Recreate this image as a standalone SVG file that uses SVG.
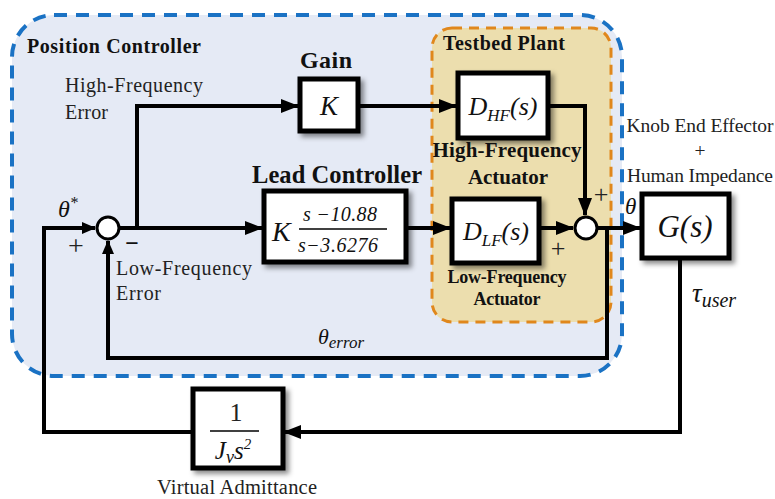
<svg xmlns="http://www.w3.org/2000/svg" width="775" height="499" viewBox="0 0 775 499" font-family="Liberation Serif, Times New Roman, DejaVu Serif, serif">
<style>
text{font-family:"Liberation Serif","Times New Roman","DejaVu Serif",serif;fill:#222}
.b{font-weight:bold;fill:#111}
.it{font-style:italic;fill:#111}
.box{fill:#fff;stroke:#000;stroke-width:5}
.w{fill:none;stroke:#000;stroke-width:4}
.sum{fill:#fff;stroke:#000;stroke-width:3}
</style>
<defs>
<marker id="ah" viewBox="0 0 14 12" refX="13" refY="6" markerWidth="14" markerHeight="12" markerUnits="userSpaceOnUse" orient="auto">
<path d="M0,0 L14,6 L0,12 Z" fill="#000"/>
</marker>
<marker id="ahl" viewBox="0 0 18 14" refX="17" refY="7" markerWidth="18" markerHeight="14" markerUnits="userSpaceOnUse" orient="auto">
<path d="M0,0 L18,7 L0,14 Z" fill="#000"/>
</marker>
<filter id="sh" x="-20%" y="-20%" width="150%" height="150%">
<feDropShadow dx="3.5" dy="3.5" stdDeviation="2.5" flood-color="#000" flood-opacity="0.45"/>
</filter>
</defs>

<g id="position-controller">
<rect x="12" y="15" width="610" height="361" rx="42" ry="42" fill="#e5eaf5" stroke="#1a72c4" stroke-width="4" stroke-dasharray="13,9"/>
<text class="b" x="27" y="53" font-size="20" textLength="174">Position Controller</text>
</g>

<g id="testbed-plant">
<rect x="432" y="28" width="179" height="294" rx="20" ry="20" fill="#ecdeae" stroke="#e0871c" stroke-width="3" stroke-dasharray="10,7"/>
<text class="b" x="443" y="50" font-size="20" textLength="122">Testbed Plant</text>
</g>

<g id="connectors">
<polyline class="w" points="192,432 44,432 44,228 95,228" marker-end="url(#ah)"/>
<line class="w" x1="119" y1="228" x2="262" y2="228" marker-end="url(#ahl)"/>
<polyline class="w" points="137,228 137,106 298,106" marker-end="url(#ahl)"/>
<line class="w" x1="358" y1="106" x2="456" y2="106" marker-end="url(#ahl)"/>
<line class="w" x1="406" y1="228" x2="450" y2="228" marker-end="url(#ahl)"/>
<polyline class="w" points="548,106 585,106 585,215" marker-end="url(#ahl)"/>
<line class="w" x1="539" y1="228" x2="573" y2="228" marker-end="url(#ahl)"/>
<line class="w" x1="597" y1="228" x2="640" y2="228" marker-end="url(#ahl)"/>
<polyline class="w" points="607,228 607,358 108,358 108,241" marker-end="url(#ah)"/>
<polyline class="w" points="680,258 680,432 284,432" marker-end="url(#ahl)"/>
</g>

<g id="sum1">
<circle class="sum" cx="108" cy="228" r="11"/>
<text x="76" y="255" font-size="28" text-anchor="middle" fill="#111">+</text>
<text class="b" x="132" y="251" font-size="24" text-anchor="middle">−</text>
</g>

<g id="sum2">
<circle class="sum" cx="586" cy="228" r="11"/>
<text x="601" y="203" font-size="26" text-anchor="middle" fill="#111">+</text>
<text x="558" y="257" font-size="26" text-anchor="middle" fill="#111">+</text>
</g>

<g id="gain">
<text class="b" x="326" y="68" font-size="24" text-anchor="middle" textLength="52">Gain</text>
<rect class="box" x="300" y="79" width="58" height="52" filter="url(#sh)"/>
<text class="it" x="329" y="115" font-size="27" text-anchor="middle">K</text>
</g>

<g id="lead-controller">
<text class="b" x="337" y="183" font-size="24.5" text-anchor="middle" textLength="170">Lead Controller</text>
<rect class="box" x="264" y="191" width="142" height="71" filter="url(#sh)"/>
<text class="it" x="272" y="241" font-size="28">K</text>
<text class="it" x="303" y="221" font-size="20" textLength="74">s −10.88</text>
<line x1="299" y1="229" x2="387" y2="229" stroke="#000" stroke-width="1.5"/>
<text class="it" x="298" y="252" font-size="20" textLength="80">s−3.6276</text>
</g>

<g id="dhf">
<rect class="box" x="458" y="73" width="90" height="65" filter="url(#sh)"/>
<text class="it" x="503" y="115" font-size="26" text-anchor="middle">D<tspan font-size="17" dy="6">HF</tspan><tspan dy="-6">(s)</tspan></text>
<text class="b" x="507" y="157" font-size="21" text-anchor="middle" textLength="149">High-Frequency</text>
<text class="b" x="508" y="184" font-size="21" text-anchor="middle" textLength="80">Actuator</text>
</g>

<g id="dlf">
<rect class="box" x="452" y="199" width="87" height="64" filter="url(#sh)"/>
<text class="it" x="496" y="240" font-size="26" text-anchor="middle">D<tspan font-size="17" dy="6">LF</tspan><tspan dy="-6">(s)</tspan></text>
<text class="b" x="507" y="283" font-size="18" text-anchor="middle" textLength="119">Low-Frequency</text>
<text class="b" x="507" y="305" font-size="18" text-anchor="middle" textLength="67">Actuator</text>
</g>

<g id="plant-g">
<text x="700" y="132" font-size="19.5" text-anchor="middle" textLength="147">Knob End Effector</text>
<text x="700" y="157" font-size="19.5" text-anchor="middle">+</text>
<text x="700" y="182" font-size="19.5" text-anchor="middle" textLength="146">Human Impedance</text>
<rect class="box" x="642" y="194" width="87" height="64" filter="url(#sh)"/>
<text class="it" x="685" y="237" font-size="31" text-anchor="middle">G(s)</text>
<text class="it" x="625" y="214" font-size="23">θ</text>
</g>

<g id="virtual-admittance">
<rect class="box" x="193" y="389" width="90" height="79" filter="url(#sh)"/>
<text x="236" y="421" font-size="26" text-anchor="middle" fill="#111">1</text>
<line x1="210" y1="431" x2="259" y2="431" stroke="#000" stroke-width="1.5"/>
<text class="it" x="233" y="459" font-size="25" text-anchor="middle">J<tspan font-size="18" dy="4">v</tspan><tspan dy="-4">s</tspan><tspan font-size="15" dy="-10">2</tspan></text>
<text x="237" y="494" font-size="20.5" text-anchor="middle" textLength="160">Virtual Admittance</text>
</g>

<g id="labels">
<text class="it" x="58" y="217" font-size="24">θ<tspan font-size="16" dy="-9">*</tspan></text>
<text x="65" y="92" font-size="20" textLength="138">High-Frequency</text>
<text x="65" y="119" font-size="20" textLength="43">Error</text>
<text x="116" y="275" font-size="20" textLength="136">Low-Frequency</text>
<text x="116" y="300" font-size="20" textLength="45">Error</text>
<text class="it" x="318" y="344" font-size="22">θ<tspan font-size="17" dy="4">error</tspan></text>
<text class="it" x="692" y="302" font-size="27">τ<tspan font-size="20" dy="5">user</tspan></text>
</g>
</svg>
